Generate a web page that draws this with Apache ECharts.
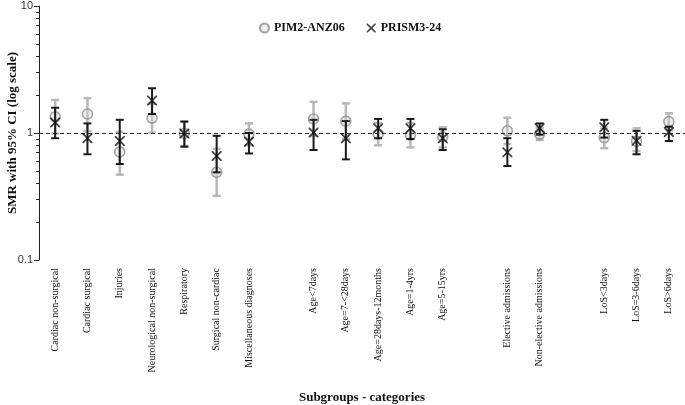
<!DOCTYPE html>
<html>
<head>
<meta charset="utf-8">
<script src="https://cdn.jsdelivr.net/npm/echarts@6/dist/echarts.min.js"></script>
<style>html,body{margin:0;padding:0;background:#fff}#c{width:685px;height:405px}</style>
</head>
<body>
<div id="c"></div>
<script>
var categories = ['Cardiac non-surgical','Cardiac surgical','Injuries','Neurological non-surgical','Respiratory','Surgical non-cardiac','Miscellaneous diagnoses','','Age<7days','Age=7-<28days','Age=28days-12months','Age=1-4yrs','Age=5-15yrs','','Elective admissions','Non-elective admissions','','LoS<3days','LoS=3-6days','LoS>6days'];

var pimSMR  = [1.34,1.41,0.71,1.31,0.99,0.49,0.98,null,1.29,1.24,0.98,0.96,0.935,null,1.04,0.98,null,0.92,0.86,1.23];
var pimLow  = [0.99,1.03,0.47,1.01,0.79,0.32,0.80,null,0.95,0.90,0.80,0.77,0.77,null,0.82,0.88,null,0.76,0.72,1.05];
var pimHigh = [1.82,1.88,1.02,1.70,1.23,0.75,1.19,null,1.76,1.71,1.20,1.20,1.11,null,1.32,1.10,null,1.10,1.09,1.43];

var prismSMR  = [1.21,0.91,0.865,1.80,0.99,0.66,0.855,null,1.01,0.91,1.09,1.09,0.91,null,0.705,1.09,null,1.11,0.87,1.02];
var prismLow  = [0.91,0.68,0.57,1.41,0.78,0.49,0.69,null,0.735,0.62,0.91,0.897,0.735,null,0.55,0.97,null,0.92,0.68,0.865];
var prismHigh = [1.58,1.19,1.27,2.25,1.23,0.95,1.00,null,1.27,1.24,1.29,1.29,1.07,null,0.91,1.19,null,1.27,1.04,1.12];

var minorTicks = [0.1,0.2,0.3,0.4,0.5,0.6,0.7,0.8,0.9,1,2,3,4,5,6,7,8,9,10];
var majorTicks = [0.1,1,10];

function pts(v){var o=[];for(var i=0;i<v.length;i++){if(v[i]!=null)o.push([i,v[i]]);}return o;}
function bars(lo,hi){var o=[];for(var i=0;i<lo.length;i++){if(lo[i]!=null)o.push([i,lo[i],hi[i]]);}return o;}

function errRender(color,width){
  return function(params,api){
    var x=api.value(0);
    var a=api.coord([x,api.value(1)]);
    var b=api.coord([x,api.value(2)]);
    var hw=4;
    var st={stroke:color,lineWidth:width};
    return {type:'group',children:[
      {type:'line',shape:{x1:a[0],y1:a[1],x2:b[0],y2:b[1]},style:st},
      {type:'line',shape:{x1:a[0]-hw,y1:a[1],x2:a[0]+hw,y2:a[1]},style:st},
      {type:'line',shape:{x1:b[0]-hw,y1:b[1],x2:b[0]+hw,y2:b[1]},style:st}
    ]};
  };
}

var xPath = 'path://M0,0 L2.5,0 L10,7.5 L17.5,0 L20,0 L20,2.5 L12.5,10 L20,17.5 L20,20 L17.5,20 L10,12.5 L2.5,20 L0,20 L0,17.5 L7.5,10 L0,2.5 Z';

var serif = '"Liberation Serif","Times New Roman",serif';
var sans = '"Liberation Sans",Arial,sans-serif';

var chart = echarts.init(document.getElementById('c'));
chart.setOption({
  animation:false,
  backgroundColor:'#fff',
  grid:{left:39,right:0,top:6,bottom:145,containLabel:false,outerBoundsMode:'none'},
  legend:{
    left:254,top:17,itemWidth:9,itemHeight:9,itemGap:22,
    textStyle:{fontFamily:serif,fontWeight:'bold',fontSize:12,color:'#111'},
    data:[{name:'PIM2-ANZ06',icon:'circle'},{name:'PRISM3-24',icon:xPath}]
  },
  xAxis:{
    type:'category',data:categories,boundaryGap:true,
    axisLine:{show:false},axisTick:{show:false},
    axisLabel:{interval:0,rotate:90,margin:8,fontFamily:serif,fontSize:10,color:'#111'},
    name:'Subgroups - categories',nameLocation:'middle',nameGap:131,
    nameTextStyle:{fontFamily:serif,fontWeight:'bold',fontSize:13,color:'#111'}
  },
  yAxis:[{
    type:'log',logBase:10,min:0.1,max:10,
    axisLine:{show:true,lineStyle:{color:'#222',width:1}},
    axisTick:{show:true,length:3,customValues:minorTicks,lineStyle:{color:'#222'}},
    axisLabel:{customValues:majorTicks,fontFamily:sans,fontSize:11,color:'#333',margin:6,
      formatter:function(v){return String(v);}},
    splitLine:{show:false},
    name:'SMR with 95% CI (log scale)',nameLocation:'middle',nameGap:20,nameMoveOverlap:false,
    nameTextStyle:{fontFamily:serif,fontWeight:'bold',fontSize:13,color:'#111'}
  },{
    type:'log',logBase:10,min:0.1,max:10,position:'left',
    axisLine:{show:false},
    axisTick:{show:true,length:5,customValues:majorTicks,lineStyle:{color:'#222'}},
    axisLabel:{show:false},splitLine:{show:false}
  }],
  series:[
    {type:'custom',name:'PIM2-ANZ06 CI',renderItem:errRender('#b8b8b8',2.5),data:bars(pimLow,pimHigh),encode:{x:0,y:[1,2]},z:2,
     markLine:{silent:true,symbol:'none',label:{show:false},lineStyle:{color:'#222',type:[4,3],width:1},data:[{yAxis:1}]}},
    {type:'scatter',name:'PIM2-ANZ06',symbol:'circle',symbolSize:10,data:pts(pimSMR),z:3,
     itemStyle:{color:'rgba(215,215,215,0.5)',borderColor:'#8c8c8c',borderWidth:1.5}},
    {type:'custom',name:'PRISM3-24 CI',renderItem:errRender('#1a1a1a',2),data:bars(prismLow,prismHigh),encode:{x:0,y:[1,2]},z:4},
    {type:'scatter',name:'PRISM3-24',symbol:xPath,symbolSize:10,data:pts(prismSMR),z:5,
     itemStyle:{color:'#111'}}
  ]
});
</script>
</body>
</html>
